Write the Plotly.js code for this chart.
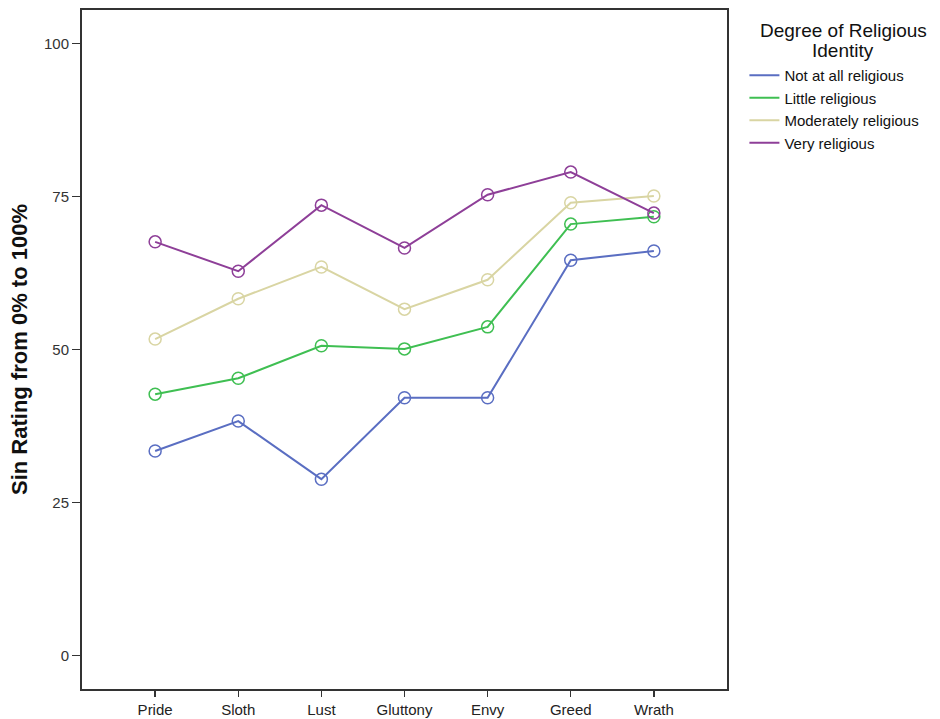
<!DOCTYPE html>
<html>
<head>
<meta charset="utf-8">
<script src="https://cdn.plot.ly/plotly-3.0.1.min.js"></script>
<style>html,body{margin:0;padding:0;background:#fff;}#chart{width:940px;height:719px;}</style>
</head>
<body>
<div id="chart"></div>
<script>
const sins = ["Pride", "Sloth", "Lust", "Gluttony", "Envy", "Greed", "Wrath"];
const seriesNames = ["Not at all religious", "Little religious", "Moderately religious", "Very religious"];
const notAtAll = [33.4, 38.3, 28.8, 42.1, 42.1, 64.6, 66.1];
const little = [42.7, 45.3, 50.6, 50.1, 53.7, 70.5, 71.7];
const moderately = [51.7, 58.3, 63.5, 56.6, 61.4, 74.0, 75.1];
const very = [67.6, 62.8, 73.6, 66.6, 75.3, 79.0, 72.3];
const yTicks = [0, 25, 50, 75, 100];
const legendTitleLines = ["Degree of Religious", "Identity"];

const colors = ["#5a6ec2", "#3fbf52", "#d9d5a3", "#8e3f98"];
const allSeries = [notAtAll, little, moderately, very];
const xIdx = sins.map((_, i) => i);

const traces = allSeries.map((vals, k) => ({
  x: xIdx, y: vals, name: seriesNames[k], type: "scatter", mode: "lines+markers",
  showlegend: false,
  line: {color: colors[k], width: 2},
  marker: {symbol: "circle-open", size: 12, color: colors[k], line: {width: 1.5, color: colors[k]}}
}));
// legend entries: line only (as in the reference legend)
seriesNames.forEach((nm, k) => traces.push({
  x: [null], y: [null], name: nm, type: "scatter", mode: "lines",
  line: {color: colors[k], width: 2}, showlegend: true, hoverinfo: "skip"
}));

const plotH = 719 - 10 - 30;
const pyTop = px => 1 - (px - 10) / plotH;

const layout = {
  width: 940, height: 719,
  margin: {l: 82, r: 213, t: 10, b: 30},
  paper_bgcolor: "#fff", plot_bgcolor: "#fff",
  font: {family: "Liberation Sans, Arial, sans-serif", size: 14, color: "#222"},
  showlegend: true,
  legend: {
    x: 1.027, xanchor: "left", y: pyTop(59), yanchor: "top",
    font: {size: 15, color: "#111"}, tracegroupgap: 0, itemwidth: 30,
    bgcolor: "rgba(0,0,0,0)"
  },
  annotations: legendTitleLines.map((t, i) => ({
    text: t, xref: "paper", yref: "paper", x: 1.18, y: pyTop(30 + 20 * i),
    xanchor: "center", yanchor: "middle", showarrow: false,
    font: {size: 19, color: "#111"}
  })),
  xaxis: {
    range: [-0.88, 6.88], tickmode: "array", tickvals: xIdx, ticktext: sins,
    showgrid: false, zeroline: false, showline: true, mirror: true,
    linecolor: "#333", linewidth: 2, ticks: "outside", ticklen: 6, tickwidth: 1.5, tickcolor: "#333",
    tickfont: {size: 15, color: "#222"}
  },
  yaxis: {
    range: [-5.5, 105.5], tickmode: "array", tickvals: yTicks, ticktext: yTicks.map(String),
    showgrid: false, zeroline: false, showline: true, mirror: true,
    linecolor: "#333", linewidth: 2, ticks: "outside", ticklen: 8, tickwidth: 1.5, tickcolor: "#333",
    tickfont: {size: 15, color: "#333"},
    title: {text: "<b>Sin Rating from 0% to 100%</b>", font: {size: 22, color: "#111"}, standoff: 10}
  }
};

Plotly.newPlot("chart", traces, layout, {displayModeBar: false, staticPlot: true});
</script>
</body>
</html>
